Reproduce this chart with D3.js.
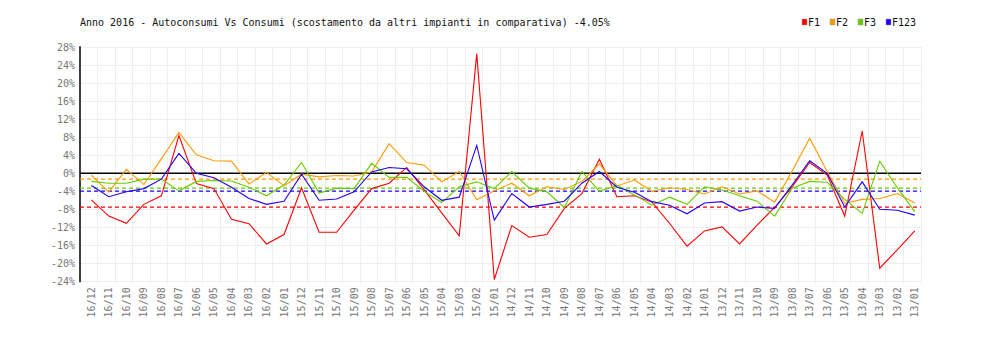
<!DOCTYPE html>
<html><head><meta charset="utf-8">
<script src="https://cdn.jsdelivr.net/npm/d3@7"></script>
<style>
html,body{margin:0;padding:0;background:#fff;}
svg{display:block;}
</style></head>
<body>
<svg id="chart" width="1000" height="340"></svg>
<script>
const title = "Anno 2016 - Autoconsumi Vs Consumi (scostamento da altri impianti in comparativa) -4.05%";
const categories = ["16/12","16/11","16/10","16/09","16/08","16/07","16/06","16/05","16/04","16/03","16/02","16/01",
  "15/12","15/11","15/10","15/09","15/08","15/07","15/06","15/05","15/04","15/03","15/02","15/01",
  "14/12","14/11","14/10","14/09","14/08","14/07","14/06","14/05","14/04","14/03","14/02","14/01",
  "13/12","13/11","13/10","13/09","13/08","13/07","13/06","13/05","13/04","13/03","13/02","13/01"];
const seriesNames = ["F1","F2","F3","F123"];
const seriesColors = ["#ff0000","#ff9900","#66cc00","#2200ff"];
const F1 = [-5.9,-9.5,-11.1,-6.9,-5.0,8.4,-2.3,-3.4,-10.2,-11.2,-15.7,-13.6,
  -3.2,-13.1,-13.1,-8.2,-3.4,-2.2,1.3,-3.7,-8.8,-13.9,26.6,-23.6,
  -11.6,-14.2,-13.6,-7.8,-4.5,3.1,-5.2,-5.0,-6.4,-11.1,-16.2,-12.8,
  -11.9,-15.7,-11.5,-7.6,-3.0,2.4,-0.4,-9.5,9.4,-21.1,-17.0,-12.8];
const F2 = [-0.4,-4.2,0.9,-2.5,3.2,9.1,4.1,2.8,2.7,-2.4,0.2,-2.8,
  -0.2,-0.8,-0.5,-0.6,0.3,6.6,2.4,1.8,-1.9,0.4,-5.9,-3.9,
  -2.2,-5.0,-3.0,-3.6,-1.8,2.1,-2.8,-1.5,-4.0,-3.2,-3.6,-4.6,
  -3.0,-4.6,-3.9,-6.4,0.5,7.8,0.4,-6.7,-5.8,-5.6,-4.5,-6.6];
const F3 = [-1.8,-2.2,-2.2,-1.3,-1.3,-3.9,-1.8,-1.6,-1.7,-3.1,-5.0,-2.6,
  2.4,-4.4,-3.3,-3.4,2.2,-0.9,-0.9,-4.0,-6.5,-3.0,-1.9,-3.4,
  0.4,-3.3,-4.1,-7.6,0.4,-4.0,-2.7,-4.8,-7.1,-5.3,-6.9,-3.0,
  -3.7,-5.0,-6.2,-9.5,-3.3,-1.8,-2.0,-5.8,-8.9,2.7,-3.2,-8.5];
const F123 = [-2.7,-5.2,-4.1,-3.4,-1.3,4.4,0.0,-1.0,-3.1,-5.6,-6.9,-6.2,
  -0.2,-6.0,-5.7,-4.1,0.3,1.3,1.0,-3.0,-6.0,-5.3,6.2,-10.4,
  -4.5,-7.5,-6.9,-6.2,-2.2,0.4,-3.1,-4.2,-6.3,-7.1,-9.0,-6.6,
  -6.3,-8.4,-7.5,-7.8,-2.6,2.8,0.0,-7.5,-1.9,-8.0,-8.2,-9.3];
const averages = [-7.5,-1.3,-3.3,-3.95];
const yTicks = [-24,-20,-16,-12,-8,-4,0,4,8,12,16,20,24,28];

const allSeries = [F1,F2,F3,F123];
const svg = d3.select("#chart");
const pLeft = 80, pRight = 921, pTop = 47.3, pBottom = 281.3;

const x = d3.scaleBand().domain(categories).range([pLeft, pRight]).padding(0);
const px = c => x(c) + x.bandwidth() * 0.645;
const y = d3.scaleLinear().domain([-24, 28]).range([pBottom, pTop]);

// grid
const grid = svg.append("g");
grid.selectAll("line.v").data(categories).join("line")
  .attr("x1", c => x(c) + x.bandwidth()).attr("x2", c => x(c) + x.bandwidth())
  .attr("y1", pTop).attr("y2", pBottom + 3)
  .attr("stroke", "#efefef").attr("stroke-width", 1).attr("shape-rendering", "crispEdges");
grid.selectAll("line.h").data(yTicks).join("line")
  .attr("x1", pLeft).attr("x2", pRight)
  .attr("y1", d => y(d)).attr("y2", d => y(d))
  .attr("stroke", "#efefef").attr("stroke-width", 1).attr("shape-rendering", "crispEdges");

// y axis
const yAxis = d3.axisLeft(y).tickValues(yTicks).tickSize(0).tickPadding(5).tickFormat(d => d + "%");
const ya = svg.append("g").attr("transform", `translate(${pLeft},0)`).call(yAxis);
ya.select(".domain").remove();
ya.selectAll("text").attr("fill", "#777").style("font-family", "'DejaVu Sans Mono', monospace").style("font-size", "10px");
svg.append("line").attr("x1", pLeft).attr("x2", pLeft).attr("y1", pTop - 1).attr("y2", pBottom + 1)
  .attr("stroke", "#000").attr("stroke-width", 1.5);

// x labels
const xAxis = d3.axisBottom(x).tickSize(0).tickPadding(0);
const xa = svg.append("g").attr("transform", `translate(0,${pBottom})`).call(xAxis);
xa.select(".domain").remove();
xa.selectAll(".tick").attr("transform", c => `translate(${px(c)},0)`);
xa.selectAll("text")
  .attr("transform", "translate(0,6) rotate(-90)")
  .attr("text-anchor", "end").attr("x", 0).attr("y", 0).attr("dy", "0.35em")
  .attr("fill", "#777").style("font-family", "'DejaVu Sans Mono', monospace").style("font-size", "10px");

// zero line
svg.append("line").attr("x1", pLeft).attr("x2", pRight).attr("y1", y(0)).attr("y2", y(0))
  .attr("stroke", "#000").attr("stroke-width", 1.5);

// average dashed lines
svg.selectAll("line.avg").data(averages).join("line")
  .attr("x1", pLeft).attr("x2", pRight)
  .attr("y1", d => y(d)).attr("y2", d => y(d))
  .attr("stroke", (d, i) => seriesColors[i]).attr("stroke-width", 1.3)
  .attr("stroke-dasharray", "4,3");

// series lines
const line = d3.line().x((d, i) => px(categories[i])).y(d => y(d));
svg.selectAll("path.s").data(allSeries).join("path")
  .attr("fill", "none").attr("stroke", (d, i) => seriesColors[i]).attr("stroke-width", 1.1)
  .attr("d", line);

// title
svg.append("text").attr("x", 80).attr("y", 26).text(title)
  .attr("fill", "#111").style("font-family", "'DejaVu Sans Mono', monospace").style("font-size", "10px");

// legend
const legX = [802, 830, 858, 886];
const leg = svg.selectAll("g.leg").data(seriesNames).join("g")
  .attr("transform", (d, i) => `translate(${legX[i]},0)`);
leg.append("rect").attr("x", 0).attr("y", 19).attr("width", 5).attr("height", 6)
  .attr("fill", (d, i) => seriesColors[i]).attr("stroke", "#999").attr("stroke-width", 0.5);
leg.append("text").attr("x", 6).attr("y", 26).text(d => d)
  .attr("fill", "#111").style("font-family", "'DejaVu Sans Mono', monospace").style("font-size", "10px");
</script>
</body></html>
